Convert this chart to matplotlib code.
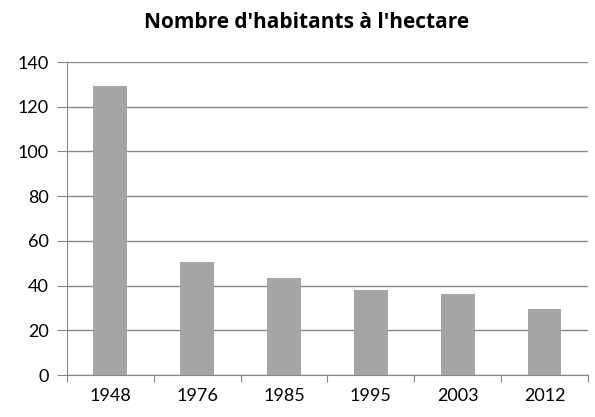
import matplotlib
matplotlib.use("Agg")
import matplotlib.pyplot as plt
import numpy as np

# Population density per census year
years = ["1948", "1976", "1985", "1995", "2003", "2012"]
density = [129.3, 50.6, 43.3, 38.1, 36.4, 29.4]

plt.rcParams['font.family'] = ['Lato', 'DejaVu Sans']

fig = plt.figure(figsize=(5.95, 4.17), dpi=100)
ax = fig.add_axes([0.1126, 0.1007, 0.8754, 0.7506])

x = np.arange(len(years))
ax.bar(x, density, width=0.39, color='#a5a5a5', zorder=3)

ax.set_xlim(-0.5, len(years) - 0.5)
ax.set_ylim(0, 140)
ax.set_yticks(np.arange(0, 141, 20))
ax.yaxis.grid(True, color='#878787', linewidth=1, zorder=0)

# category ticks sit between the bars
ax.set_xticks(np.arange(-0.5, len(years), 1), minor=False)
ax.set_xticklabels([])
ax.set_xticks(x, minor=True)
ax.set_xticklabels(years, minor=True)
ax.tick_params(axis='x', which='major', length=5, color='#878787', direction='out')
ax.tick_params(axis='x', which='minor', length=0, pad=9, labelsize=13)
ax.tick_params(axis='y', length=7, color='#878787', direction='out', pad=6, labelsize=13)

for side in ['top', 'right']:
    ax.spines[side].set_visible(False)
for side in ['left', 'bottom']:
    ax.spines[side].set_color('#878787')

fig.text(0.516, 0.945, "Nombre d'habitants à l'hectare", ha='center', va='center',
         fontsize=15, fontweight='bold', family=['Open Sans', 'DejaVu Sans'])

fig.savefig("out.png", dpi=100)
